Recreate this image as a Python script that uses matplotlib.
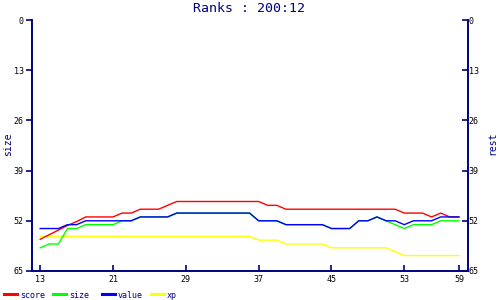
import matplotlib
matplotlib.use("Agg")
import matplotlib.pyplot as plt
from matplotlib.lines import Line2D

navy = "#000080"
mono = "DejaVu Sans Mono"

levels = list(range(13, 60))
score = [56.8, 55.6, 54.4, 53.2, 52.2, 51, 51, 51, 51, 50, 50, 49, 49, 49, 48, 47,
         47, 47, 47, 47, 47, 47, 47, 47, 47, 48, 48, 49, 49, 49, 49, 49, 49, 49,
         49, 49, 49, 49, 49, 49, 50, 50, 50, 51, 50, 51, 51]
size = [59, 58, 58, 54, 54, 53, 53, 53, 53, 52, 52, 51, 51, 51, 51, 50,
        50, 50, 50, 50, 50, 50, 50, 50, 52, 52, 52, 53, 53, 53, 53, 53, 54, 54,
        54, 52, 52, 51, 52, 53, 54, 53, 53, 53, 52, 52, 52]
value = [54, 54, 54, 53, 53, 52, 52, 52, 52, 52, 52, 51, 51, 51, 51, 50,
         50, 50, 50, 50, 50, 50, 50, 50, 52, 52, 52, 53, 53, 53, 53, 53, 54, 54,
         54, 52, 52, 51, 52, 52, 53, 52, 52, 52, 51, 51, 51]
xp = [56] * 24 + [57, 57, 57, 58, 58, 58, 58, 58, 59, 59, 59, 59, 59, 59, 59,
                  60, 61, 61, 61, 61, 61, 61, 61]

names = ["score", "size", "value", "xp"]
colors = ["#ff0000", "#00ff00", "#0000ff", "#ffff00"]
series = [score, size, value, xp]

yticks = [0, 13, 26, 39, 52, 65]
xticks = [13, 21, 29, 37, 45, 53, 59]

fig = plt.figure(figsize=(5, 3), dpi=100)
ax = fig.add_axes([32 / 500, 1 - 271 / 300, 436 / 500, 251 / 300])

# yellow first, then blue on top like the reference
for i in [3, 0, 1, 2]:
    ax.plot(levels, series[i], color=colors[i], lw=1.0, solid_joinstyle="miter")

ax.set_xlim(12.1, 60)
ax.set_ylim(65, 0)
ax.set_xticks(xticks)
ax.set_yticks(yticks)
ax.tick_params(axis="x", direction="in", length=4, width=1.2, color=navy,
               labelsize=6, pad=3)
ax.tick_params(axis="y", direction="out", length=4, width=1.2, color=navy,
               labelsize=6, pad=2)
for lab in ax.get_xticklabels() + ax.get_yticklabels():
    lab.set_family(mono)
ax.spines["top"].set_visible(False)
for s in ["left", "right", "bottom"]:
    ax.spines[s].set_color(navy)
    ax.spines[s].set_linewidth(1.2)

ax2 = ax.twinx()
ax2.set_ylim(65, 0)
ax2.set_yticks(yticks)
ax2.tick_params(axis="y", which="both", direction="in", length=4, width=1.2,
                color=navy, labelsize=6, pad=0.5)
for lab in ax2.get_yticklabels():
    lab.set_family(mono)
ax2.spines["top"].set_visible(False)
for s in ["left", "right", "bottom"]:
    ax2.spines[s].set_color(navy)
    ax2.spines[s].set_linewidth(1.2)

fig.text(249 / 500, 1 - 8 / 300, "Ranks : 200:12", color=navy, family=mono,
         fontsize=9.5, ha="center", va="center")
fig.text(8 / 500, 1 - 144 / 300, "size", color=navy, family=mono, fontsize=7,
         rotation=90, ha="center", va="center")
fig.text(492 / 500, 1 - 143 / 300, "rest", color=navy, family=mono, fontsize=7,
         rotation=90, ha="center", va="center")

# legend row along the bottom
for i, name in enumerate(names):
    x0 = 4 + 49 * i
    fig.add_artist(Line2D([x0 / 500, (x0 + 13) / 500], [1 - 294 / 300] * 2,
                          color=colors[i], lw=2.2))
    fig.text((x0 + 16) / 500, 1 - 295 / 300, name, color=navy, family=mono,
             fontsize=6, ha="left", va="center")

fig.savefig("out.png", dpi=100)
